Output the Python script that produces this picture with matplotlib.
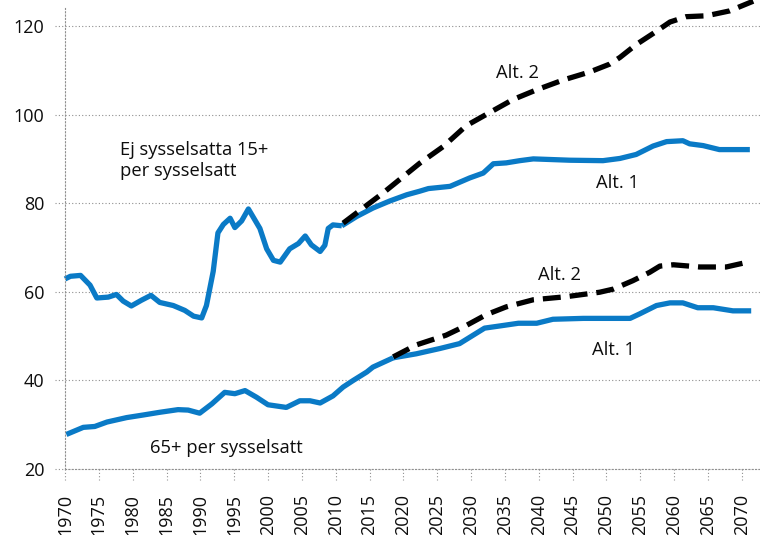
import matplotlib
matplotlib.use('Agg')
import matplotlib.pyplot as plt
from matplotlib.transforms import blended_transform_factory
from matplotlib.lines import Line2D

plt.rcParams['font.family'] = ['Open Sans', 'DejaVu Sans']

# ---------------- data ----------------
# Ej sysselsatta 15+ per sysselsatt, historical
upper_hist_years = [1970.0, 1970.8, 1972.3, 1973.7, 1974.7, 1976.4, 1977.6, 1978.6, 1979.8, 1981.3,
                    1982.7, 1984.0, 1986.0, 1987.7, 1989.0, 1990.2, 1990.9, 1991.9, 1992.6, 1993.4,
                    1994.4, 1995.1, 1996.1, 1997.1, 1998.8, 1999.8, 2000.8, 2001.8, 2003.2, 2004.5,
                    2005.5, 2006.4, 2007.7, 2008.4, 2008.9, 2009.6, 2010.9]
upper_hist_vals = [62.9, 63.5, 63.7, 61.5, 58.6, 58.8, 59.4, 57.9, 56.8, 58.1,
                   59.2, 57.6, 56.9, 55.8, 54.5, 54.1, 56.9, 64.6, 73.3, 75.2,
                   76.6, 74.5, 76.0, 78.7, 74.3, 69.7, 67.1, 66.7, 69.7, 70.9,
                   72.6, 70.6, 69.1, 70.5, 74.3, 75.1, 74.9]

upper_alt1_years = [2010.9, 2013.1, 2015.5, 2018.0, 2020.5, 2022.4, 2023.7, 2026.9, 2029.8, 2031.8,
                    2033.3, 2035.2, 2037.2, 2039.2, 2044.6, 2049.5, 2052.0, 2054.4, 2056.9, 2058.9,
                    2061.3, 2062.3, 2064.3, 2066.7, 2071.2]
upper_alt1_vals = [74.9, 77.0, 78.9, 80.5, 81.9, 82.7, 83.3, 83.8, 85.7, 86.8,
                   88.9, 89.1, 89.6, 90.0, 89.7, 89.6, 90.1, 91.0, 92.9, 93.9,
                   94.1, 93.4, 93.0, 92.1, 92.1]

upper_alt2_years = [2011.1, 2017.0, 2022.4, 2025.9, 2029.3, 2032.8, 2036.2, 2039.7, 2043.6, 2047.5,
                    2050.5, 2052.0, 2054.4, 2056.9, 2059.4, 2061.8, 2064.8, 2068.2, 2071.7]
upper_alt2_vals = [75.5, 82.3, 89.0, 92.8, 97.5, 100.5, 103.4, 105.6, 107.8, 109.6,
                   111.4, 112.9, 115.8, 118.3, 120.9, 122.1, 122.3, 123.4, 125.6]

# 65+ per sysselsatt, historical
lower_hist_years = [1970.2, 1972.7, 1974.4, 1976.2, 1979.1, 1981.6, 1984.0, 1986.7, 1988.2, 1989.9,
                    1991.7, 1993.6, 1995.1, 1996.6, 1998.3, 2000.0, 2002.7, 2004.7, 2006.2, 2007.7,
                    2009.6, 2011.1, 2012.6, 2014.6, 2015.5, 2018.5]
lower_hist_vals = [27.8, 29.4, 29.6, 30.6, 31.6, 32.2, 32.8, 33.4, 33.3, 32.6,
                   34.7, 37.3, 37.0, 37.7, 36.2, 34.5, 33.9, 35.4, 35.4, 34.9,
                   36.5, 38.5, 40.0, 41.9, 43.0, 45.1]

lower_alt1_years = [2018.5, 2021.9, 2025.4, 2028.3, 2032.0, 2034.3, 2037.0, 2039.7, 2042.1, 2046.6,
                    2053.5, 2054.9, 2057.4, 2059.4, 2061.3, 2063.5, 2065.8, 2068.7, 2071.4]
lower_alt1_vals = [45.1, 46.0, 47.2, 48.3, 51.8, 52.3, 52.9, 52.9, 53.8, 54.0,
                   54.0, 55.0, 56.9, 57.5, 57.5, 56.4, 56.4, 55.7, 55.7]

lower_alt2_years = [2018.5, 2021.9, 2026.3, 2029.3, 2032.2, 2035.2, 2039.2, 2044.1, 2049.0, 2051.0,
                    2053.9, 2056.4, 2057.9, 2059.9, 2063.8, 2067.7, 2070.9]
lower_alt2_vals = [45.3, 48.0, 50.2, 52.4, 54.8, 56.6, 58.2, 58.9, 59.9, 60.6,
                   62.5, 64.4, 65.8, 66.1, 65.6, 65.6, 66.7]

x_ticks = list(range(1970, 2071, 5))
y_ticks = [20, 40, 60, 80, 100, 120]

# ---------------- figure ----------------
BLUE = '#0A7AC6'
GRID = '#8f8f8f'
TXT = '#0d0d0d'
DOT = (0, (1, 2))

fig = plt.figure(figsize=(7.6, 5.35), dpi=100)
ax = fig.add_axes([65/760, (535-469)/535, (760-65)/760, (469-8)/535])
ax.set_xlim(1970, 2072.7)
ax.set_ylim(20, 124.06)

for s in ['top', 'right']:
    ax.spines[s].set_visible(False)
for s in ['left', 'bottom']:
    ax.spines[s].set_linestyle(DOT)
    ax.spines[s].set_color(GRID)
    ax.spines[s].set_linewidth(0.8)

ax.set_yticks(y_ticks)
ax.set_xticks(x_ticks)
ax.set_xticklabels([str(t) for t in x_ticks], rotation=90)
ax.tick_params(axis='both', length=0, labelsize=13, colors=TXT)
ax.tick_params(axis='x', pad=18)
ax.tick_params(axis='y', pad=15)
ax.yaxis.grid(True, linestyle=DOT, color=GRID, linewidth=0.8)
ax.set_axisbelow(True)

# dotted tick marks
tx = blended_transform_factory(ax.transData, ax.transAxes)
ty = blended_transform_factory(ax.transAxes, ax.transData)
h = ax.get_position().height * 535
w = ax.get_position().width * 760
for t in x_ticks:
    ax.add_line(Line2D([t, t], [0, -11/h], transform=tx, color=GRID, lw=0.8,
                       linestyle=DOT, clip_on=False))
for t in y_ticks:
    ax.add_line(Line2D([-10/w, 0], [t, t], transform=ty, color=GRID, lw=0.8,
                       linestyle=DOT, clip_on=False))

lw = 3.8
dash = (0, (3.4, 1.7))
ax.plot(upper_hist_years, upper_hist_vals, color=BLUE, lw=lw, solid_capstyle='butt', clip_on=False)
ax.plot(upper_alt1_years, upper_alt1_vals, color=BLUE, lw=lw, solid_capstyle='butt', clip_on=False)
ax.plot(lower_hist_years, lower_hist_vals, color=BLUE, lw=lw, solid_capstyle='butt', clip_on=False)
ax.plot(lower_alt1_years, lower_alt1_vals, color=BLUE, lw=lw, solid_capstyle='butt', clip_on=False)
ax.plot(upper_alt2_years, upper_alt2_vals, color='black', lw=lw, linestyle=dash,
        dash_capstyle='butt', clip_on=False)
ax.plot(lower_alt2_years, lower_alt2_vals, color='black', lw=lw, linestyle=dash,
        dash_capstyle='butt', clip_on=False)

fs = 13.2
ax.text(1978.2, 89.6, 'Ej sysselsatta 15+\nper sysselsatt', fontsize=fs, ha='left',
        va='center', linespacing=1.2, color=TXT)
ax.text(2036.8, 109.5, 'Alt. 2', fontsize=fs, ha='center', va='center', color=TXT)
ax.text(2051.7, 84.6, 'Alt. 1', fontsize=fs, ha='center', va='center', color=TXT)
ax.text(2043.0, 63.8, 'Alt. 2', fontsize=fs, ha='center', va='center', color=TXT)
ax.text(2051.0, 46.9, 'Alt. 1', fontsize=fs, ha='center', va='center', color=TXT)
ax.text(1993.8, 24.7, '65+ per sysselsatt', fontsize=fs, ha='center', va='center', color=TXT)

fig.savefig('out.png', dpi=100)
